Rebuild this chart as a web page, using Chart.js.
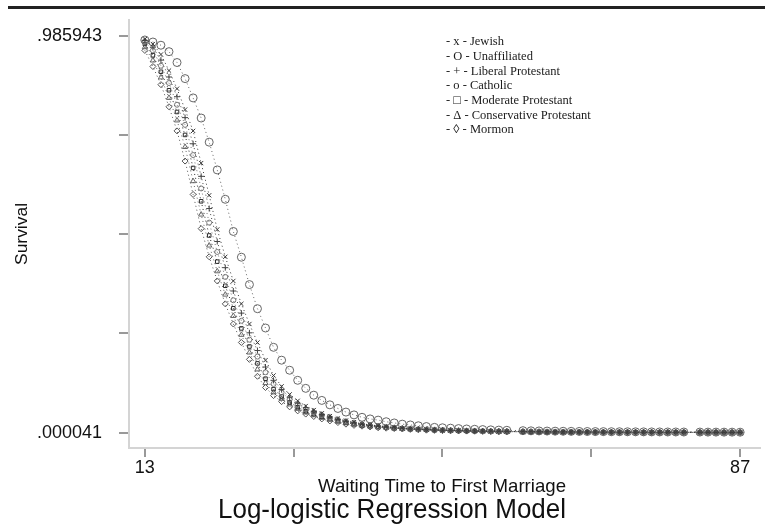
<!DOCTYPE html>
<html>
<head>
<meta charset="utf-8">
<script src="https://cdn.jsdelivr.net/npm/chart.js@4/dist/chart.umd.min.js"></script>
<style>
  html, body { margin: 0; padding: 0; background: #fff; }
  canvas { display: block; }
</style>
</head>
<body>
<canvas id="c" width="765" height="531"></canvas>
<script>
// waiting time (age) 13..87
const ages = [13,14,15,16,17,18,19,20,21,22,23,24,25,26,27,28,29,30,31,32,33,34,35,36,37,38,39,40,
  41,42,43,44,45,46,47,48,49,50,51,52,53,54,55,56,57,58,59,60,61,62,63,64,65,66,67,68,69,70,
  71,72,73,74,75,76,77,78,79,80,81,82,83,84,85,86,87];

// estimated survival values per group (null = no observation at that age)
const jewish = [.978,.966,.940,.900,.855,.803,.750,.670,.590,.505,.437,.377,.320,.270,.224,.180,.142,.115,.095,.079,.066,.056,.048,.041,.035,.030,.026,.022,
  .019,.017,.015,.013,.011,.010,.009,.008,.007,.0063,.0057,.0052,.0047,.0043,.0039,.0036,.0033,.0030,null,.0026,.0024,.0022,.0020,.0019,.0018,.0017,.0016,.0015,.0014,.0013,
  .0012,.0012,.0011,.0010,.0010,.0009,.0009,.0008,.0008,.0008,null,.0007,.0007,.0006,.0006,.0006,.0006];
const unaffiliated = [.976,.971,.963,.947,.920,.880,.832,.782,.722,.653,.580,.500,.436,.368,.308,.260,.212,.180,.155,.130,.110,.093,.080,.069,.060,.051,.044,.038,
  .034,.031,.027,.024,.021,.019,.017,.015,.013,.012,.011,.010,.009,.0082,.0075,.0068,.0062,.0057,null,.0048,.0044,.0041,.0038,.0035,.0033,.0031,.0029,.0027,.0025,.0024,
  .0022,.0021,.0020,.0019,.0018,.0017,.0016,.0015,.0015,.0014,null,.0013,.0012,.0012,.0011,.0011,.0010];
const liberalProt = [.975,.958,.926,.884,.835,.783,.718,.637,.557,.475,.410,.352,.297,.248,.204,.163,.130,.107,.088,.073,.062,.053,.045,.039,.033,.028,.024,.021,
  .018,.016,.014,.012,.011,.0095,.0085,.0075,.0068,.0060,.0054,.0049,.0045,.0041,.0037,.0034,.0031,.0029,null,.0025,.0023,.0021,.0019,.0018,.0017,.0016,.0015,.0014,.0013,.0012,
  .0012,.0011,.0010,.0010,.0009,.0009,.0008,.0008,.0007,.0007,null,.0007,.0006,.0006,.0006,.0005,.0005];
const catholic = [.972,.950,.912,.869,.815,.765,.690,.607,.522,.449,.387,.329,.278,.231,.189,.150,.121,.100,.083,.069,.058,.050,.043,.036,.031,.027,.023,.020,
  .017,.015,.013,.012,.010,.009,.008,.0072,.0065,.0058,.0052,.0047,.0043,.0039,.0035,.0032,.0029,.0027,null,.0023,.0021,.0020,.0018,.0017,.0016,.0015,.0014,.0013,.0012,.0011,
  .0011,.0010,.0010,.0009,.0009,.0008,.0008,.0007,.0007,.0007,null,.0006,.0006,.0006,.0005,.0005,.0005];
const moderateProt = [.966,.938,.897,.851,.797,.740,.658,.575,.490,.425,.365,.309,.259,.214,.172,.134,.108,.090,.075,.063,.053,.046,.039,.034,.029,.025,.021,.018,
  .016,.014,.012,.011,.0095,.0085,.0078,.0070,.0060,.0055,.0050,.0045,.0041,.0037,.0034,.0031,.0028,.0026,null,.0022,.0020,.0019,.0017,.0016,.0015,.0014,.0013,.0012,.0011,.0011,
  .0010,.0010,.0009,.0009,.0008,.0008,.0007,.0007,.0007,.0006,null,.0006,.0005,.0005,.0005,.0005,.0004];
const conservativeProt = [.958,.925,.883,.832,.776,.710,.625,.542,.465,.401,.343,.290,.243,.199,.157,.123,.100,.084,.070,.059,.050,.043,.037,.032,.027,.023,.020,.017,
  .015,.013,.012,.010,.009,.008,.0075,.0065,.0060,.0052,.0047,.0043,.0039,.0035,.0032,.0029,.0027,.0025,null,.0021,.0019,.0018,.0016,.0015,.0014,.0013,.0012,.0011,.0011,.0010,
  .0010,.0009,.0009,.0008,.0008,.0007,.0007,.0006,.0006,.0006,null,.0005,.0005,.0005,.0005,.0004,.0004];
const mormon = [.950,.910,.865,.810,.750,.675,.592,.507,.437,.377,.320,.270,.224,.182,.140,.112,.092,.077,.064,.054,.046,.040,.034,.029,.025,.021,.018,.016,
  .014,.012,.011,.010,.009,.008,.007,.006,.0055,.0050,.0045,.0041,.0037,.0034,.0031,.0028,.0026,.0024,null,.0020,.0018,.0017,.0015,.0014,.0013,.0012,.0011,.0011,.0010,.0009,
  .0009,.0008,.0008,.0007,.0007,.0007,.0006,.0006,.0006,.0005,null,.0005,.0005,.0004,.0004,.0004,.0004];

const yTickValues = [0.000041, 0.246516, 0.492992, 0.739467, 0.985943];
const yTickLabels = ['.000041', '', '', '', '.985943'];
const xTickValues = [13, 31.5, 50, 68.5, 87];
const xTickLabels = ['13', '', '', '', '87'];

const legendLines = [
  '- x - Jewish',
  '- O - Unaffiliated',
  '- + - Liberal Protestant',
  '- o - Catholic',
  '- \u25A1 - Moderate Protestant',
  '- \u0394 - Conservative Protestant',
  '- \u25CA - Mormon'
];

function series(label, vals, style, radius, color, order) {
  return {
    label,
    order,
    data: ages.map((a, i) => ({ x: a, y: vals[i] })),
    pointStyle: style,
    pointRadius: radius,
    pointBorderWidth: 1,
    pointBorderColor: color,
    pointBackgroundColor: 'rgba(0,0,0,0)',
    borderColor: color,
    borderWidth: 1,
    borderDash: [1, 3],
    spanGaps: true,
    fill: false,
    tension: 0
  };
}

function fitText(ctx, text, cx, cy, font, width, rot) {
  ctx.save();
  ctx.font = font;
  const w = ctx.measureText(text).width;
  ctx.translate(cx, cy);
  if (rot) ctx.rotate(rot);
  ctx.scale(width / w, 1);
  ctx.textAlign = 'center';
  ctx.textBaseline = 'middle';
  ctx.fillStyle = '#111';
  ctx.fillText(text, 0, 0);
  ctx.restore();
}

const decor = {
  id: 'decor',
  beforeDraw(chart) {
    const ctx = chart.ctx;
    ctx.save();
    ctx.fillStyle = '#fff';
    ctx.fillRect(0, 0, chart.width, chart.height);
    ctx.fillStyle = '#222';
    ctx.fillRect(8, 6, chart.width - 8, 3);
    ctx.restore();
  },
  afterDraw(chart) {
    const ctx = chart.ctx;
    fitText(ctx, 'Survival', 22, 234, '17px "Liberation Sans", Arial, sans-serif', 62, -Math.PI / 2);
    fitText(ctx, 'Waiting Time to First Marriage', 442, 487, '19px "Liberation Sans", Arial, sans-serif', 248);
    fitText(ctx, 'Log-logistic Regression Model', 392, 510, '28px "Liberation Sans", Arial, sans-serif', 348);
    ctx.save();
    ctx.font = '12.5px "Liberation Serif", "Times New Roman", serif';
    ctx.fillStyle = '#1a1a1a';
    ctx.textBaseline = 'middle';
    legendLines.forEach((t, i) => ctx.fillText(t, 446, 42 + i * 14.7));
    ctx.restore();
  }
};

new Chart(document.getElementById('c'), {
  type: 'line',
  data: {
    datasets: [
      series('Jewish', jewish, 'crossRot', 3, '#3a3a3a', 1),
      series('Unaffiliated', unaffiliated, 'circle', 4, '#666', 9),
      series('Liberal Protestant', liberalProt, 'cross', 3, '#444', 2),
      series('Catholic', catholic, 'circle', 2.5, '#777', 3),
      series('Moderate Protestant', moderateProt, 'rect', 2.5, '#2a2a2a', 4),
      series('Conservative Protestant', conservativeProt, 'triangle', 3, '#666', 5),
      series('Mormon', mormon, 'rectRot', 3, '#555', 6)
    ]
  },
  options: {
    responsive: false,
    animation: false,
    layout: { padding: { top: 20, left: 0, right: 0, bottom: 0 } },
    plugins: { legend: { display: false }, tooltip: { enabled: false }, title: { display: false } },
    scales: {
      x: {
        type: 'linear',
        min: 11.03,
        max: 89.47,
        afterFit: s => { s.height = 83; s.paddingLeft = 0; s.paddingRight = 0; },
        afterBuildTicks: s => { s.ticks = xTickValues.map(v => ({ value: v })); },
        grid: { drawOnChartArea: false, drawTicks: true, tickLength: 9, color: '#999', lineWidth: 2 },
        border: { display: true, color: '#d4d4d4', width: 2 },
        ticks: {
          autoSkip: false, maxRotation: 0, padding: 0, color: '#111',
          font: { family: '"Liberation Sans", Arial, sans-serif', size: 18 },
          callback: (v, i) => xTickLabels[i]
        }
      },
      y: {
        type: 'linear',
        min: -0.0383,
        max: 1.0257,
        afterFit: s => { s.width = 129; s.paddingTop = 0; s.paddingBottom = 0; },
        afterBuildTicks: s => { s.ticks = yTickValues.map(v => ({ value: v })); },
        grid: { drawOnChartArea: false, drawTicks: true, tickLength: 10, color: '#999', lineWidth: 2 },
        border: { display: true, color: '#d4d4d4', width: 2 },
        ticks: {
          autoSkip: false, padding: 17, color: '#111',
          font: { family: '"Liberation Sans", Arial, sans-serif', size: 18, lineHeight: 0.5 },
          callback: (v, i) => yTickLabels[i]
        }
      }
    }
  },
  plugins: [decor]
});
</script>
</body>
</html>
